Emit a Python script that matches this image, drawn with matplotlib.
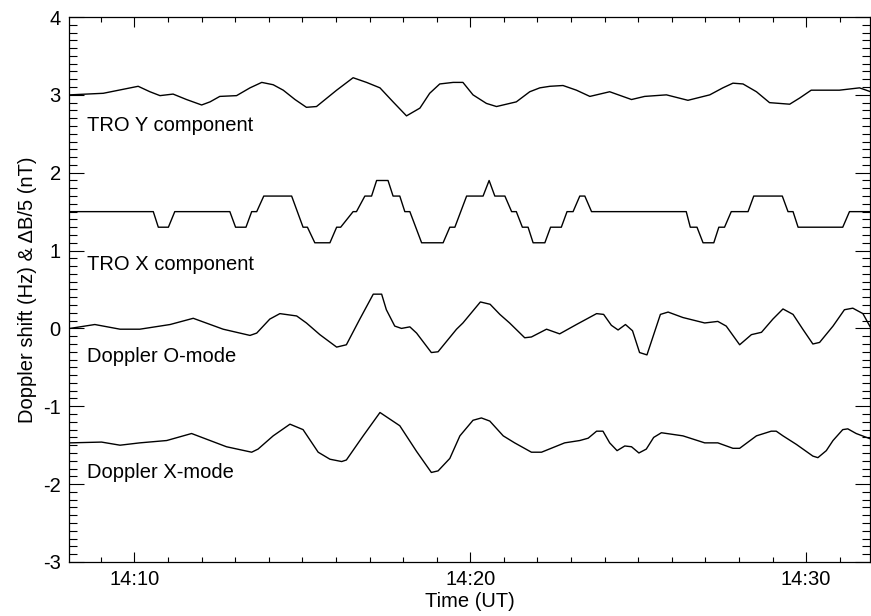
import matplotlib
matplotlib.use("Agg")
import matplotlib.pyplot as plt
from matplotlib.ticker import FixedLocator, MultipleLocator, FuncFormatter

plt.rcParams["font.family"] = ["Liberation Sans", "DejaVu Sans"]
plt.rcParams["axes.unicode_minus"] = False

# -----------------------------
# Data (time in minutes after 14:00 UT)
# -----------------------------

t_troy = [8.08, 9.07, 10.11, 10.46, 10.76, 11.15, 11.55, 12.00, 12.25, 12.54,
          13.04, 13.44, 13.79, 14.13, 14.43, 14.78, 15.12, 15.42, 16.02, 16.51,
          16.91, 17.31, 17.70, 18.10, 18.50, 18.79, 19.09, 19.49, 19.78, 20.08,
          20.48, 20.78, 21.37, 21.77, 22.07, 22.37, 22.76, 23.16, 23.56, 24.15,
          24.80, 25.19, 25.84, 26.48, 27.13, 27.52, 27.82, 28.12, 28.52, 28.91,
          29.51, 29.81, 30.15, 30.99, 31.59, 31.92]
troy = [3.00, 3.02, 3.11, 3.04, 2.99, 3.01, 2.94, 2.87, 2.91, 2.98,
        2.99, 3.09, 3.16, 3.13, 3.06, 2.94, 2.84, 2.85, 3.06, 3.22,
        3.16, 3.09, 2.91, 2.73, 2.83, 3.02, 3.14, 3.16, 3.16, 3.00,
        2.89, 2.85, 2.91, 3.04, 3.09, 3.11, 3.12, 3.06, 2.98, 3.04,
        2.94, 2.98, 3.00, 2.93, 3.00, 3.09, 3.15, 3.14, 3.04, 2.90,
        2.88, 2.96, 3.06, 3.06, 3.09, 3.04]

t_trox = [8.08, 10.56, 10.71, 11.01, 11.20, 12.84, 13.01, 13.32, 13.49, 13.64,
          13.85, 14.68, 15.02, 15.15, 15.37, 15.82, 16.02, 16.14, 16.51, 16.61,
          16.86, 17.06, 17.21, 17.55, 17.70, 17.90, 18.05, 18.20, 18.55, 19.19,
          19.39, 19.54, 19.89, 20.38, 20.56, 20.73, 21.03, 21.23, 21.37, 21.55,
          21.72, 21.87, 22.22, 22.39, 22.71, 22.88, 23.06, 23.26, 23.41, 23.61,
          26.43, 26.55, 26.75, 26.93, 27.25, 27.40, 27.57, 27.77, 28.27, 28.44,
          29.29, 29.46, 29.61, 29.76, 31.09, 31.29, 31.92]
trox = [1.5, 1.5, 1.3, 1.3, 1.5, 1.5, 1.3, 1.3, 1.5, 1.5,
        1.7, 1.7, 1.3, 1.3, 1.1, 1.1, 1.3, 1.3, 1.5, 1.5,
        1.7, 1.7, 1.9, 1.9, 1.7, 1.7, 1.5, 1.5, 1.1, 1.1,
        1.3, 1.3, 1.7, 1.7, 1.9, 1.7, 1.7, 1.5, 1.5, 1.3,
        1.3, 1.1, 1.1, 1.3, 1.3, 1.5, 1.5, 1.7, 1.7, 1.5,
        1.5, 1.3, 1.3, 1.1, 1.1, 1.3, 1.3, 1.5, 1.5, 1.7,
        1.7, 1.5, 1.5, 1.3, 1.3, 1.5, 1.5]

t_omode = [8.08, 8.82, 9.57, 10.16, 11.06, 11.75, 12.64, 13.44, 13.64, 14.03,
           14.33, 14.83, 15.12, 15.52, 16.02, 16.31, 16.71, 17.11, 17.36, 17.50,
           17.75, 17.95, 18.20, 18.40, 18.84, 19.04, 19.59, 19.78, 20.30, 20.59,
           20.88, 21.17, 21.62, 21.82, 22.27, 22.66, 23.16, 23.76, 23.97, 24.20,
           24.40, 24.62, 24.83, 25.04, 25.26, 25.66, 25.89, 26.33, 26.98, 27.37,
           27.62, 28.02, 28.37, 28.67, 29.01, 29.31, 29.61, 29.90, 30.20, 30.40,
           30.80, 31.14, 31.39, 31.69, 31.92]
omode = [0.00, 0.05, -0.01, -0.01, 0.05, 0.13, -0.01, -0.09, -0.06, 0.12,
         0.19, 0.16, 0.07, -0.08, -0.24, -0.21, 0.12, 0.44, 0.44, 0.24,
         0.03, 0.00, 0.02, -0.06, -0.31, -0.30, -0.01, 0.07, 0.34, 0.31,
         0.18, 0.07, -0.12, -0.11, -0.01, -0.07, 0.05, 0.19, 0.18, 0.04,
         -0.02, 0.05, -0.03, -0.31, -0.34, 0.18, 0.21, 0.14, 0.07, 0.09,
         0.03, -0.21, -0.08, -0.05, 0.12, 0.25, 0.18, -0.01, -0.20, -0.18,
         0.03, 0.24, 0.26, 0.19, 0.01]

t_xmode = [8.08, 9.02, 9.57, 10.16, 10.96, 11.70, 12.74, 13.49, 13.68, 14.13,
           14.63, 15.02, 15.47, 15.82, 16.17, 16.31, 16.81, 17.31, 17.90, 18.40,
           18.84, 19.04, 19.39, 19.69, 20.08, 20.33, 20.58, 20.98, 21.32, 21.82,
           22.12, 22.81, 23.26, 23.51, 23.76, 23.95, 24.15, 24.37, 24.60, 24.80,
           25.02, 25.24, 25.46, 25.69, 26.33, 26.98, 27.37, 27.82, 28.02, 28.52,
           28.96, 29.11, 29.31, 29.71, 30.20, 30.35, 30.60, 30.80, 31.09, 31.24,
           31.49, 31.92]
xmode = [-1.47, -1.46, -1.50, -1.47, -1.44, -1.35, -1.52, -1.59, -1.55, -1.38,
         -1.23, -1.30, -1.59, -1.68, -1.71, -1.69, -1.38, -1.08, -1.25, -1.58,
         -1.85, -1.83, -1.67, -1.38, -1.18, -1.15, -1.19, -1.38, -1.47, -1.59,
         -1.59, -1.47, -1.44, -1.41, -1.32, -1.32, -1.47, -1.57, -1.51, -1.52,
         -1.60, -1.55, -1.40, -1.34, -1.38, -1.47, -1.47, -1.54, -1.54, -1.38,
         -1.32, -1.32, -1.38, -1.49, -1.64, -1.66, -1.57, -1.44, -1.30, -1.29,
         -1.35, -1.42]

series_labels = ["TRO Y component", "TRO X component",
                 "Doppler O-mode", "Doppler X-mode"]
label_y = [2.6, 0.82, -0.36, -1.85]

# -----------------------------
# Plot
# -----------------------------

fig = plt.figure(figsize=(8.71, 6.16), dpi=100)
ax = fig.add_axes([0.0792, 0.0877, 0.9196, 0.8847])

for t, v in [(t_troy, troy), (t_trox, trox), (t_omode, omode), (t_xmode, xmode)]:
    ax.plot(t, v, color="black", linewidth=1.0)

for lab, yy in zip(series_labels, label_y):
    ax.text(8.58, yy, lab, fontsize=14.5, va="center", ha="left")

ax.set_xlim(8.05, 31.9)
ax.set_ylim(-3, 4)

ax.xaxis.set_major_locator(FixedLocator([10, 20, 30]))
ax.xaxis.set_minor_locator(MultipleLocator(1))
ax.xaxis.set_major_formatter(FuncFormatter(lambda x, p: "14:%02d" % int(round(x))))
ax.yaxis.set_major_locator(MultipleLocator(1))
ax.yaxis.set_minor_locator(MultipleLocator(0.1))

ax.tick_params(which="both", direction="in", top=True, right=True,
               labelsize=14.5, width=0.8)
ax.tick_params(axis="x", which="major", length=7.5, pad=6)
ax.tick_params(axis="x", which="minor", length=3.8)
ax.tick_params(axis="y", which="major", length=11, pad=6)
ax.tick_params(axis="y", which="minor", length=5.5)

for sp in ax.spines.values():
    sp.set_linewidth(0.9)

ax.set_xlabel("Time (UT)", fontsize=14.5, labelpad=2)
ax.set_ylabel("Doppler shift (Hz) & \u0394B/5 (nT)", fontsize=14.5, labelpad=4)

fig.savefig("out.png", dpi=100)
